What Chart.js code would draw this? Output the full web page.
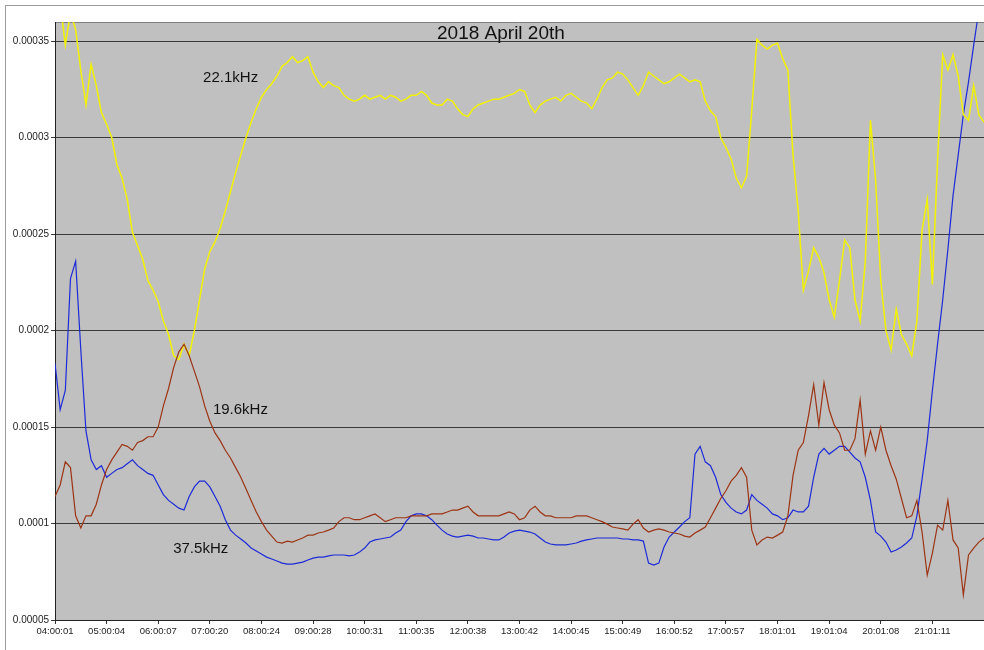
<!DOCTYPE html>
<html>
<head>
<meta charset="utf-8">
<script src="https://cdn.jsdelivr.net/npm/chart.js@4.4.1/dist/chart.umd.min.js"></script>
<style>
  html, body { margin: 0; padding: 0; background: #fff; }
  canvas { display: block; }
</style>
</head>
<body>
<canvas id="chart" width="984" height="650"></canvas>
<script>
// tick labels of the time axis, one per hour of samples
const hourLabels = ['04:00:01', '05:00:04', '06:00:07', '07:00:20', '08:00:24', '09:00:28',
  '10:00:31', '11:00:35', '12:00:38', '13:00:42', '14:00:45', '15:00:49', '16:00:52',
  '17:00:57', '18:01:01', '19:01:04', '20:01:08', '21:01:11'];
const yTicks = [0.00005, 0.0001, 0.00015, 0.0002, 0.00025, 0.0003, 0.00035];
const yTickLabels = ['0.00005', '0.0001', '0.00015', '0.0002', '0.00025', '0.0003', '0.00035'];

// readings every 6 minutes (0.1 h) from 04:00:01
const sampleStep = 0.1;

const khz22 = [0.000380, 0.000370, 0.000348, 0.000365, 0.000356, 0.000335, 0.000317, 0.000338, 0.000327, 0.000313,
  0.000307, 0.000300, 0.000286, 0.000279, 0.000268, 0.000251, 0.000244, 0.000237, 0.000226, 0.000221,
  0.000215, 0.000205, 0.000198, 0.000187, 0.000185, 0.000193, 0.000187, 0.000200, 0.000216, 0.000232,
  0.000241, 0.000246, 0.000253, 0.000262, 0.000272, 0.000282, 0.000291, 0.000300, 0.000308, 0.000315,
  0.000321, 0.000325, 0.000328, 0.000332, 0.000337, 0.000339, 0.000342, 0.000339, 0.000340, 0.000342,
  0.000334, 0.000329, 0.000326, 0.000329, 0.000327, 0.000326, 0.000322, 0.000320, 0.000319, 0.000320,
  0.000322, 0.000320, 0.000321, 0.000322, 0.000320, 0.000322, 0.000321, 0.000319, 0.000320, 0.000322,
  0.000322, 0.000324, 0.000322, 0.000318, 0.000317, 0.000317, 0.000320, 0.000319, 0.000315, 0.000312,
  0.000311, 0.000315, 0.000317, 0.000318, 0.000319, 0.000320, 0.000320, 0.000321, 0.000322, 0.000323,
  0.000325, 0.000324, 0.000317, 0.000313, 0.000317, 0.000319, 0.000320, 0.000321, 0.000319, 0.000322,
  0.000323, 0.000321, 0.000319, 0.000318, 0.000315, 0.000320, 0.000326, 0.000330, 0.000331, 0.000334,
  0.000333, 0.000330, 0.000326, 0.000322, 0.000327, 0.000334, 0.000332, 0.000330, 0.000328, 0.000329,
  0.000331, 0.000333, 0.000331, 0.000329, 0.000330, 0.000329, 0.000319, 0.000314, 0.000311, 0.000300,
  0.000295, 0.000289, 0.000279, 0.000274, 0.000280, 0.000314, 0.000351, 0.000348, 0.000346, 0.000348,
  0.000349, 0.000341, 0.000335, 0.000291, 0.000262, 0.000221, 0.000231, 0.000243, 0.000238, 0.000230,
  0.000216, 0.000207, 0.000226, 0.000247, 0.000243, 0.000216, 0.000205, 0.000236, 0.000309, 0.000278,
  0.000226, 0.000200, 0.000190, 0.000211, 0.000198, 0.000193, 0.000187, 0.000205, 0.000252, 0.000268,
  0.000224, 0.000288, 0.000343, 0.000335, 0.000343, 0.000332, 0.000312, 0.000309, 0.000327, 0.000312,
  0.000308];

const khz19 = [0.000114, 0.000120, 0.000132, 0.000129, 0.000104, 0.0000977, 0.000104, 0.000104, 0.000110, 0.000120,
  0.000128, 0.000133, 0.000137, 0.000141, 0.000140, 0.000138, 0.000142, 0.000143, 0.000145, 0.000145,
  0.000150, 0.000161, 0.000170, 0.000181, 0.000189, 0.000193, 0.000187, 0.000179, 0.000171, 0.000161,
  0.000153, 0.000147, 0.000143, 0.000138, 0.000134, 0.000129, 0.000124, 0.000118, 0.000112, 0.000106,
  0.000101, 0.0000966, 0.0000935, 0.0000904, 0.0000899, 0.0000909, 0.0000904, 0.0000915, 0.0000925, 0.0000940,
  0.0000940, 0.0000951, 0.0000956, 0.0000966, 0.0000977, 0.000101, 0.000103, 0.000103, 0.000102, 0.000102,
  0.000103, 0.000104, 0.000105, 0.000103, 0.000101, 0.000102, 0.000103, 0.000103, 0.000103, 0.000104,
  0.000104, 0.000104, 0.000104, 0.000105, 0.000105, 0.000105, 0.000106, 0.000107, 0.000107, 0.000108,
  0.000109, 0.000106, 0.000104, 0.000104, 0.000104, 0.000104, 0.000104, 0.000105, 0.000106, 0.000105,
  0.000102, 0.000103, 0.000107, 0.000109, 0.000106, 0.000104, 0.000104, 0.000103, 0.000103, 0.000103,
  0.000103, 0.000104, 0.000104, 0.000104, 0.000103, 0.000102, 0.000101, 0.0000997, 0.0000982, 0.0000977,
  0.0000972, 0.0000966, 0.0000997, 0.000102, 0.0000977, 0.0000956, 0.0000966, 0.0000972, 0.0000966, 0.0000956,
  0.0000951, 0.0000946, 0.0000935, 0.0000930, 0.0000951, 0.0000966, 0.0000982, 0.000103, 0.000108, 0.000113,
  0.000117, 0.000122, 0.000125, 0.000129, 0.000124, 0.0000966, 0.0000889, 0.0000915, 0.0000930, 0.0000925,
  0.0000940, 0.0000956, 0.000104, 0.000125, 0.000138, 0.000142, 0.000156, 0.000172, 0.000151, 0.000173,
  0.000159, 0.000151, 0.000147, 0.000138, 0.000138, 0.000144, 0.000164, 0.000136, 0.000148, 0.000138,
  0.000150, 0.000138, 0.000130, 0.000123, 0.000113, 0.000103, 0.000104, 0.000112, 0.0000956, 0.0000733,
  0.0000847, 0.0000992, 0.0000966, 0.000112, 0.0000915, 0.0000873, 0.0000630, 0.0000837, 0.0000873, 0.0000904,
  0.0000925];

const khz37 = [0.000183, 0.000159, 0.000169, 0.000227, 0.000236, 0.000190, 0.000148, 0.000133, 0.000128, 0.000130,
  0.000124, 0.000126, 0.000128, 0.000129, 0.000131, 0.000133, 0.000130, 0.000128, 0.000126, 0.000125,
  0.000120, 0.000115, 0.000112, 0.000110, 0.000108, 0.000107, 0.000114, 0.000119, 0.000122, 0.000122,
  0.000119, 0.000114, 0.000109, 0.000102, 0.0000966, 0.0000940, 0.0000920, 0.0000899, 0.0000873, 0.0000858,
  0.0000842, 0.0000826, 0.0000816, 0.0000806, 0.0000795, 0.0000790, 0.0000790, 0.0000795, 0.0000800, 0.0000811,
  0.0000821, 0.0000826, 0.0000826, 0.0000832, 0.0000837, 0.0000837, 0.0000837, 0.0000832, 0.0000837, 0.0000852,
  0.0000873, 0.0000904, 0.0000915, 0.0000920, 0.0000925, 0.0000930, 0.0000951, 0.0000966, 0.000101, 0.000104,
  0.000105, 0.000105, 0.000104, 0.000102, 0.0000992, 0.0000966, 0.0000946, 0.0000935, 0.0000930, 0.0000935,
  0.0000940, 0.0000935, 0.0000925, 0.0000925, 0.0000920, 0.0000915, 0.0000915, 0.0000930, 0.0000951, 0.0000961,
  0.0000966, 0.0000961, 0.0000956, 0.0000946, 0.0000925, 0.0000904, 0.0000894, 0.0000889, 0.0000889, 0.0000889,
  0.0000894, 0.0000899, 0.0000909, 0.0000915, 0.0000920, 0.0000925, 0.0000925, 0.0000925, 0.0000925, 0.0000925,
  0.0000920, 0.0000920, 0.0000915, 0.0000915, 0.0000909, 0.0000795, 0.0000785, 0.0000795, 0.0000878, 0.0000930,
  0.0000956, 0.0000982, 0.000101, 0.000103, 0.000136, 0.000140, 0.000132, 0.000130, 0.000124, 0.000115,
  0.000111, 0.000108, 0.000106, 0.000105, 0.000107, 0.000115, 0.000112, 0.000110, 0.000108, 0.000105,
  0.000104, 0.000102, 0.000103, 0.000107, 0.000106, 0.000106, 0.000109, 0.000124, 0.000136, 0.000139,
  0.000136, 0.000138, 0.000140, 0.000140, 0.000137, 0.000134, 0.000132, 0.000124, 0.000112, 0.0000956,
  0.0000935, 0.0000904, 0.0000852, 0.0000863, 0.0000878, 0.0000899, 0.0000925, 0.000104, 0.000123, 0.000143,
  0.000169, 0.000193, 0.000216, 0.000242, 0.000270, 0.000291, 0.000312, 0.000329, 0.000348, 0.000366,
  0.000380];

const chartTitle = '2018 April 20th';
const seriesNames = ['22.1kHz', '19.6kHz', '37.5kHz'];

const FONT = '"Liberation Sans", Arial, sans-serif';

function toPoints(values) {
  return values.map((v, i) => ({ x: i * sampleStep, y: v }));
}

// gray plot area, outer frame and the texts written on the plot
const sheet = {
  id: 'sheet',
  beforeDraw(chart) {
    const { ctx, chartArea: a } = chart;
    ctx.save();
    ctx.fillStyle = '#fff';
    ctx.fillRect(0, 0, chart.width, chart.height);
    ctx.strokeStyle = '#9c9c9c';
    ctx.lineWidth = 1;
    ctx.strokeRect(5.5, 5.5, chart.width + 20, chart.height + 20);
    ctx.fillStyle = '#c0c0c0';
    ctx.fillRect(a.left, a.top, a.right - a.left, a.bottom - a.top);
    ctx.strokeStyle = '#808080';
    ctx.beginPath();
    ctx.moveTo(a.left, a.top + 0.5);
    ctx.lineTo(a.right, a.top + 0.5);
    ctx.stroke();
    ctx.restore();
  },
  afterDatasetsDraw(chart) {
    const { ctx, scales: { x, y } } = chart;
    ctx.save();
    ctx.fillStyle = '#111';
    ctx.textBaseline = 'alphabetic';
    ctx.textAlign = 'center';
    ctx.font = '19px ' + FONT;
    ctx.fillText(chartTitle, x.getPixelForValue(8.64), y.getPixelForValue(0.000351));
    ctx.textAlign = 'left';
    ctx.font = '15px ' + FONT;
    ctx.fillText(seriesNames[0], x.getPixelForValue(2.87), y.getPixelForValue(0.000329));
    ctx.fillText(seriesNames[1], x.getPixelForValue(3.06), y.getPixelForValue(0.000157));
    ctx.fillText(seriesNames[2], x.getPixelForValue(2.29), y.getPixelForValue(0.0000847));
    ctx.restore();
  }
};

new Chart(document.getElementById('chart'), {
  type: 'line',
  data: {
    datasets: [
      { label: seriesNames[1], data: toPoints(khz19), borderColor: '#9c3414', borderWidth: 1.2 },
      { label: seriesNames[0], data: toPoints(khz22), borderColor: '#f2f200', borderWidth: 1.5 },
      { label: seriesNames[2], data: toPoints(khz37), borderColor: '#1c2ad8', borderWidth: 1.2 }
    ]
  },
  options: {
    responsive: false,
    animation: false,
    devicePixelRatio: 1,
    layout: { padding: { top: 22, left: 0, right: 0, bottom: 0 } },
    elements: {
      line: { borderWidth: 1, tension: 0 },
      point: { radius: 0 }
    },
    plugins: { legend: { display: false }, tooltip: { enabled: false } },
    scales: {
      x: {
        type: 'linear',
        min: 0,
        max: 18,
        afterBuildTicks: s => { s.ticks = hourLabels.map((_, i) => ({ value: i })); },
        afterFit: s => { s.height = 30; },
        ticks: {
          callback: (v, i) => hourLabels[i],
          autoSkip: false,
          maxRotation: 0,
          padding: 2,
          color: '#222',
          font: { family: FONT, size: 9.5 }
        },
        grid: { drawOnChartArea: false, drawTicks: true, tickLength: 4, color: '#333' },
        border: { color: '#222' }
      },
      y: {
        min: 0.00005,
        max: 0.00036,
        afterBuildTicks: s => { s.ticks = yTicks.map(v => ({ value: v })); },
        afterFit: s => { s.width = 55; },
        ticks: {
          callback: (v, i) => yTickLabels[i],
          padding: 2,
          color: '#222',
          font: { family: FONT, size: 10 }
        },
        grid: { color: '#3a3a3a', tickLength: 4 },
        border: { color: '#222' }
      }
    }
  },
  plugins: [sheet]
});
</script>
</body>
</html>
